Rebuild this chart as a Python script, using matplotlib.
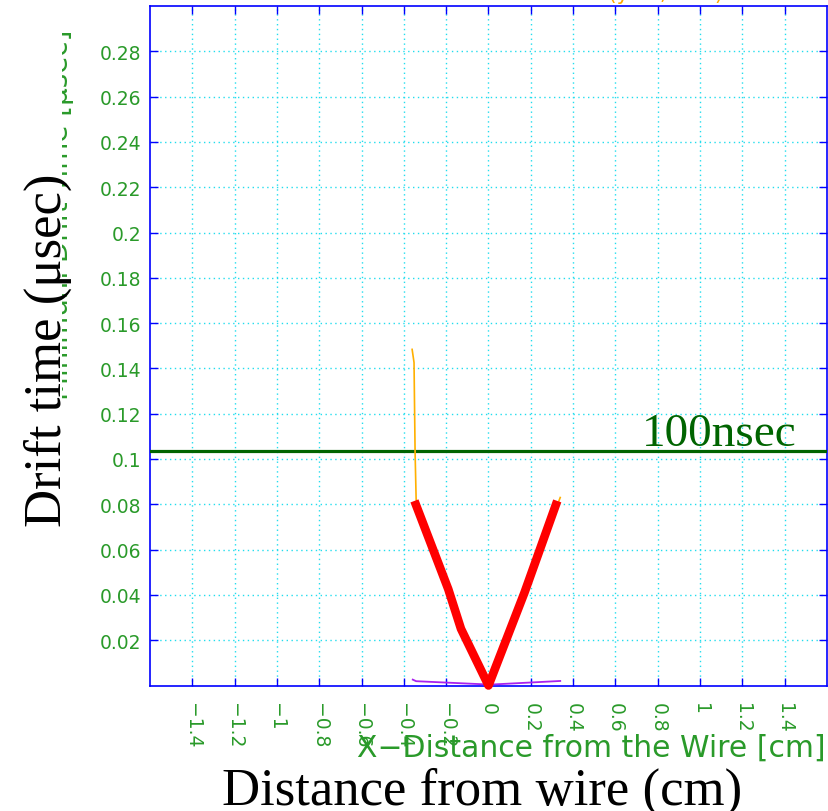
import matplotlib
matplotlib.use("Agg")
import matplotlib.pyplot as plt
from matplotlib.transforms import Bbox

# ---- data ----
red_x = [-0.35, -0.19, -0.13, 0.0, 0.17, 0.325]
red_y = [0.0815, 0.0425, 0.025, 0.0, 0.041, 0.0815]

orange_x = [-0.361, -0.352, -0.347, -0.342, -0.19, -0.13, 0.0, 0.17, 0.339]
orange_y = [0.1484, 0.1426, 0.103, 0.082, 0.0425, 0.025, 0.0, 0.041, 0.083]

purple_x = [-0.358, -0.342, 0.008, 0.339]
purple_y = [0.0026, 0.0019, 0.0004, 0.002]

threshold = 0.1035
threshold_label = "100nsec"

xticks = [-1.4, -1.2, -1.0, -0.8, -0.6, -0.4, -0.2, 0.0, 0.2, 0.4, 0.6, 0.8, 1.0, 1.2, 1.4]
xticklabels = ["\u22121.4", "\u22121.2", "\u22121", "\u22120.8", "\u22120.6", "\u22120.4", "\u22120.2",
               "0", "0.2", "0.4", "0.6", "0.8", "1", "1.2", "1.4"]
yticks = [0.02, 0.04, 0.06, 0.08, 0.10, 0.12, 0.14, 0.16, 0.18, 0.20, 0.22, 0.24, 0.26, 0.28]
yticklabels = ["0.02", "0.04", "0.06", "0.08", "0.1", "0.12", "0.14", "0.16", "0.18", "0.2",
               "0.22", "0.24", "0.26", "0.28"]

W, H = 829, 812
fig = plt.figure(figsize=(W / 100, H / 100), dpi=100)
fig.patch.set_facecolor("white")

def fx(x):
    return x / W

def fy(y):
    return 1 - y / H

ax = fig.add_axes([fx(150), fy(686.5), (827 - 150) / W, (686.5 - 7) / H])
ax.set_xlim(-1.6, 1.6)
ax.set_ylim(0, 0.3)

green = "#2a9a2a"
ax.set_xticks(xticks)
ax.set_xticklabels(xticklabels, rotation=270, color=green, fontsize=13.5, family="DejaVu Sans")
ax.set_yticks(yticks)
ax.set_yticklabels(yticklabels, color=green, fontsize=13.5, family="DejaVu Sans")
ax.tick_params(axis="both", direction="in", top=True, right=True, length=6, width=1,
               color="#0000ff")
ax.tick_params(axis="x", pad=12)
ax.tick_params(axis="y", pad=6)
for s in ax.spines.values():
    s.set_color("#0000ff")
    s.set_linewidth(1.2)

ax.grid(True, color="#22ddee", linestyle=(0, (1, 2.5)), linewidth=1.0)
ax.set_axisbelow(True)

ax.axhline(threshold, color="#006400", linewidth=2.3, zorder=3)
ax.plot(purple_x, purple_y, color="#aa22ee", linewidth=1.3, zorder=4)
ax.plot(orange_x, orange_y, color="#ffb000", linewidth=1.2, zorder=4)
ax.plot(red_x, red_y, color="#ff0000", linewidth=6.2, zorder=5, clip_on=False,
        solid_capstyle="butt")

ax.text(fx(797), fy(446), threshold_label, transform=fig.transFigure, ha="right",
        va="baseline", fontsize=34, color="#006400", family="Liberation Serif")

# partially visible original titles (clipped)
t1 = fig.text(fx(74), fy(30), "Minimum Drift Time [\u03bcsec]", rotation=90, ha="right", va="top",
              fontsize=20, color=green, family="DejaVu Sans")
t1.set_clip_box(Bbox.from_extents(62, 0, W, H))
t1.set_clip_on(True)

fig.text(fx(826), fy(757), "X\u2212Distance from the Wire [cm]", ha="right", va="baseline",
         fontsize=21.5, color=green, family="DejaVu Sans")

fig.text(fx(480), fy(0.5), "Minimum Drift Time vs X\u2212Distance (y=0, z=0)", ha="center",
         va="baseline", fontsize=15, color="#ffaa00", family="DejaVu Sans")

fig.text(fx(482), fy(805), "Distance from wire (cm)", ha="center", va="baseline",
         fontsize=38, color="black", family="Liberation Serif")
fig.text(fx(72), fy(350), "Drift time (\u03bcsec)", rotation=90, ha="right", va="center",
         fontsize=38, color="black", family="Liberation Serif")

fig.savefig("out.png", dpi=100, facecolor="white")
